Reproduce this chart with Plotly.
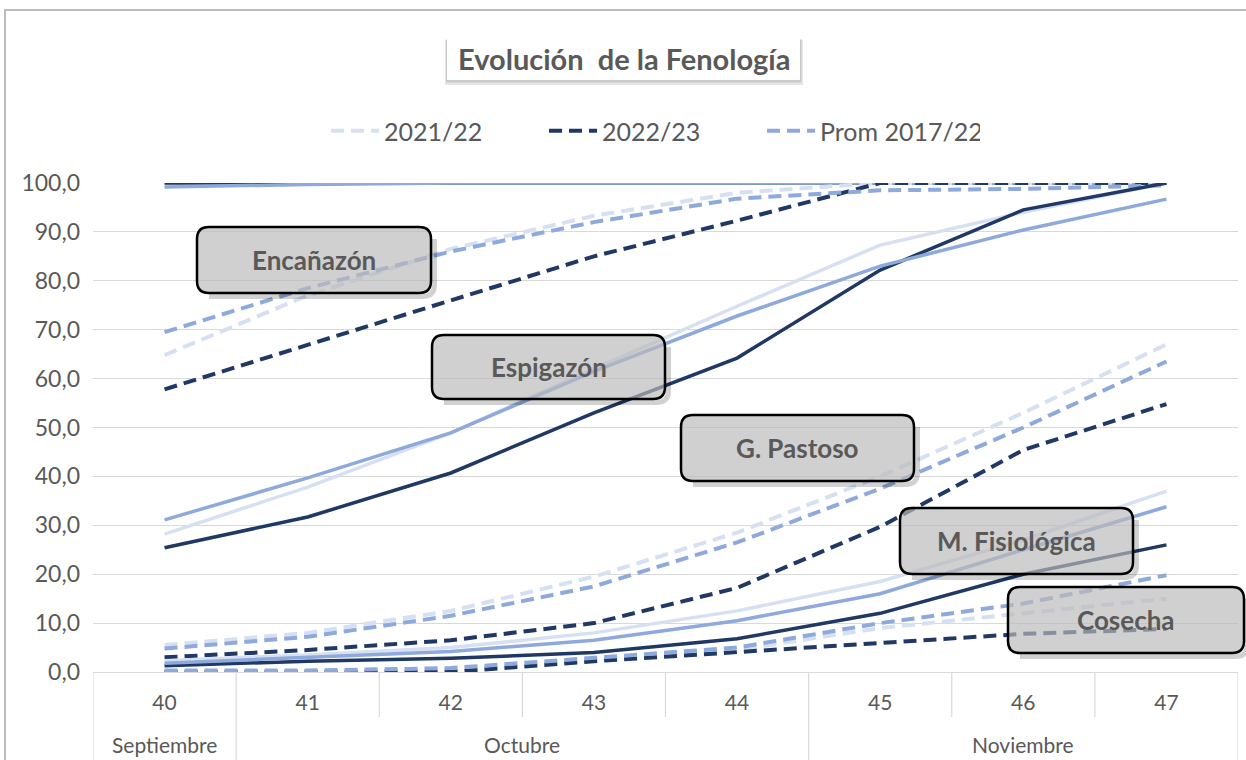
import plotly.graph_objects as go

# ---------------- data ----------------
weeks = [40, 41, 42, 43, 44, 45, 46, 47]
week_labels = ["40", "41", "42", "43", "44", "45", "46", "47"]
month_labels = ["Septiembre", "Octubre", "Noviembre"]
month_centers = [40, 42.5, 46]
series_names = ["2021/22", "2022/23", "Prom 2017/22"]

# stage 0 (unlabelled, solid)
inicial_2122 = [100, 100, 100, 100, 100, 100, 100, 100]
inicial_2223 = [100, 100, 100, 100, 100, 100, 100, 100]
inicial_prom = [99.2, 99.7, 100, 100, 100, 100, 100, 100]

# Encañazón (dashed)
encanazon_2122 = [64.8, 77.0, 86.5, 93.3, 98.0, 100, 100, 100]
encanazon_2223 = [57.8, 67.0, 76.0, 85.0, 92.3, 100, 100, 100]
encanazon_prom = [69.5, 78.5, 86.0, 92.0, 96.8, 98.5, 98.8, 99.5]

# Espigazón (solid)
espigazon_2122 = [28.2, 37.8, 48.9, 62.0, 74.8, 87.3, 94.0, 100]
espigazon_2223 = [25.4, 31.7, 40.7, 53.0, 64.2, 82.2, 94.5, 100]
espigazon_prom = [31.1, 39.7, 48.9, 61.5, 72.8, 83.0, 90.4, 96.7]

# G. Pastoso (dashed)
pastoso_2122 = [5.5, 8.0, 12.5, 19.5, 28.5, 40.0, 53.0, 67.0]
pastoso_2223 = [3.0, 4.5, 6.5, 10.0, 17.2, 29.7, 45.4, 54.8]
pastoso_prom = [4.8, 7.2, 11.5, 17.5, 26.5, 37.5, 50.0, 63.5]

# M. Fisiológica (solid)
fisiologica_2122 = [2.3, 3.5, 5.0, 8.0, 12.5, 18.5, 27.0, 37.0]
fisiologica_2223 = [1.3, 2.2, 2.8, 4.0, 6.8, 12.0, 20.0, 26.0]
fisiologica_prom = [1.8, 3.0, 4.2, 6.5, 10.5, 16.0, 25.0, 33.8]

# Cosecha (dashed)
cosecha_2122 = [0.0, 0.0, 0.5, 2.5, 4.5, 9.0, 12.0, 15.0]
cosecha_2223 = [0.0, 0.0, 0.0, 2.2, 4.0, 5.8, 7.8, 8.8]
cosecha_prom = [0.3, 0.3, 0.8, 2.8, 5.0, 10.0, 14.0, 19.8]

stages = [
    ("Inicial", "solid", inicial_2122, inicial_2223, inicial_prom),
    ("Encañazón", "dash", encanazon_2122, encanazon_2223, encanazon_prom),
    ("Espigazón", "solid", espigazon_2122, espigazon_2223, espigazon_prom),
    ("G. Pastoso", "dash", pastoso_2122, pastoso_2223, pastoso_prom),
    ("M. Fisiológica", "solid", fisiologica_2122, fisiologica_2223, fisiologica_prom),
    ("Cosecha", "dash", cosecha_2122, cosecha_2223, cosecha_prom),
]

# label boxes: (text, left, top, right, bottom) in page pixels
label_boxes = [
    ("Encañazón", 197, 227, 431, 293),
    ("Espigazón", 432, 335, 665, 399),
    ("G. Pastoso", 681, 415, 914, 481),
    ("M. Fisiológica", 900, 508, 1133, 574),
    ("Cosecha", 1008, 587, 1244, 653),
]

# ---------------- style ----------------
C_LIGHT = "#D6E0F2"
C_DARK = "#1F3864"
C_MED = "#8EA9DB"
TXT = "#595959"
FONT = "Lato"
DASH = "13px,7px"

W, H = 1246, 760
L, R, T, B = 93, 1238, 183, 672


def px(xp):
    return (xp - L) / (R - L)


def py(yp):
    return (B - yp) / (B - T)


fig = go.Figure()

order = [(0, C_LIGHT, 1), (1, C_DARK, 2), (2, C_MED, 3)]
for si, (sname, style, a, b, c) in enumerate(stages):
    vals = [a, b, c]
    for idx, col, rank in order:
        fig.add_trace(go.Scatter(
            x=weeks, y=vals[idx], mode="lines",
            name=series_names[idx],
            legendgroup=series_names[idx],
            showlegend=(sname == "Encañazón"),
            legendrank=rank,
            line=dict(color=col, width=4 if style == "dash" else 3.5,
                      dash=DASH if style == "dash" else "solid"),
            hovertemplate=sname + " %{y:.1f}<extra>" + series_names[idx] + "</extra>",
        ))

shapes = []
annotations = []

# outer chart border (top and left)
shapes.append(dict(type="path", xref="paper", yref="paper",
                   path=f"M {px(5)},{py(H + 5)} L {px(5)},{py(10)} L {px(W + 5)},{py(10)}",
                   line=dict(color="#A6A6A6", width=1.5)))


def rrect(x0, y0, x1, y1, r):
    pts = [
        ("M", [(x0 + r, y0)]), ("L", [(x1 - r, y0)]), ("Q", [(x1, y0), (x1, y0 + r)]),
        ("L", [(x1, y1 - r)]), ("Q", [(x1, y1), (x1 - r, y1)]),
        ("L", [(x0 + r, y1)]), ("Q", [(x0, y1), (x0, y1 - r)]),
        ("L", [(x0, y0 + r)]), ("Q", [(x0, y0), (x0 + r, y0)]),
    ]
    s = ""
    for cmd, ps in pts:
        s += cmd + " " + " ".join(f"{px(a):.5f},{py(b):.5f}" for a, b in ps) + " "
    return s + "Z"


def shadow_path(x0, y0, x1, y1, r, off):
    return (f"M {px(x0 + r):.5f},{py(y1 + off):.5f} L {px(x1 - r + off):.5f},{py(y1 + off):.5f} "
            f"Q {px(x1 + off):.5f},{py(y1 + off):.5f} {px(x1 + off):.5f},{py(y1 - r + off):.5f} "
            f"L {px(x1 + off):.5f},{py(y0 + r):.5f}")


# title box
tx0, ty0, tx1, ty1 = 447, 37, 800, 80
shapes.append(dict(type="rect", xref="paper", yref="paper",
                   x0=px(tx0 - 2), x1=px(tx1 + 3), y0=py(ty0 + 3), y1=py(ty1 + 5),
                   fillcolor="rgba(0,0,0,0.10)", line=dict(width=0)))
shapes.append(dict(type="rect", xref="paper", yref="paper",
                   x0=px(tx0 - 1), x1=px(tx1 + 1.5), y0=py(ty0 + 2), y1=py(ty1 + 2.5),
                   fillcolor="rgba(0,0,0,0.12)", line=dict(width=0)))
shapes.append(dict(type="rect", xref="paper", yref="paper",
                   x0=px(tx0), x1=px(tx1), y0=py(ty0), y1=py(ty1),
                   fillcolor="white", line=dict(width=0)))
annotations.append(dict(xref="paper", yref="paper", x=px((tx0 + tx1) / 2), y=py(58),
                        text="<b>Evolución  de la Fenología</b>", showarrow=False,
                        font=dict(family=FONT, size=29, color=TXT),
                        xanchor="center", yanchor="middle"))

# label boxes
for text, x0, y0, x1, y1 in label_boxes:
    r = 12
    shapes.append(dict(type="path", xref="paper", yref="paper", layer="above",
                       path=shadow_path(x0, y0, x1, y1, r, 3.5),
                       line=dict(color="rgba(0,0,0,0.18)", width=5)))
    shapes.append(dict(type="path", xref="paper", yref="paper", layer="above",
                       path=rrect(x0, y0, x1, y1, r),
                       fillcolor="rgba(185,185,185,0.68)",
                       line=dict(color="black", width=2.5)))
    annotations.append(dict(xref="paper", yref="paper", x=px((x0 + x1) / 2), y=py((y0 + y1) / 2),
                            text=f"<b>{text}</b>", showarrow=False,
                            font=dict(family=FONT, size=26, color=TXT),
                            xanchor="center", yanchor="middle"))

# category separators on the x axis
for i in range(len(weeks) + 1):
    xb = weeks[0] - 0.5 + i
    full = i in (0, 1, 5, 8)
    shapes.append(dict(type="line", xref="x", yref="paper", x0=xb, x1=xb,
                       y0=0, y1=py(760 if full else 717),
                       line=dict(color="#D9D9D9", width=1.2)))

for lab, cx in zip(month_labels, month_centers):
    annotations.append(dict(xref="x", yref="paper", x=cx, y=py(744), text=lab,
                            showarrow=False, font=dict(family=FONT, size=21, color=TXT),
                            xanchor="center", yanchor="middle"))

fig.update_layout(
    width=W, height=H,
    margin=dict(l=L, r=W - R, t=T, b=H - B),
    paper_bgcolor="white", plot_bgcolor="white",
    separators=",.",
    font=dict(family=FONT, color=TXT),
    showlegend=True,
    legend=dict(orientation="h", x=px(653), xanchor="center", y=py(131), yanchor="middle",
                font=dict(family=FONT, size=25, color=TXT),
                itemwidth=48, entrywidth=155, entrywidthmode="pixels",
                traceorder="normal", bgcolor="rgba(0,0,0,0)"),
    xaxis=dict(range=[weeks[0] - 0.5, weeks[-1] + 0.5], tickvals=weeks, ticktext=week_labels,
               showgrid=False, zeroline=False, showline=False, ticks="",
               tickfont=dict(family=FONT, size=21, color=TXT), ticklabelstandoff=16,
               fixedrange=True),
    yaxis=dict(range=[0, 100], tickvals=[0, 10, 20, 30, 40, 50, 60, 70, 80, 90, 100],
               tickformat=".1f", showgrid=True, gridcolor="#D9D9D9", gridwidth=1,
               zeroline=True, zerolinecolor="#D9D9D9", zerolinewidth=1,
               showline=False, ticks="", ticklabelstandoff=12,
               tickfont=dict(family=FONT, size=23, color=TXT), fixedrange=True),
    shapes=shapes,
    annotations=annotations,
)

fig.write_html("out.html", config={"displayModeBar": False},
               post_script="document.body.style.margin='0';document.body.style.overflow='hidden';")
